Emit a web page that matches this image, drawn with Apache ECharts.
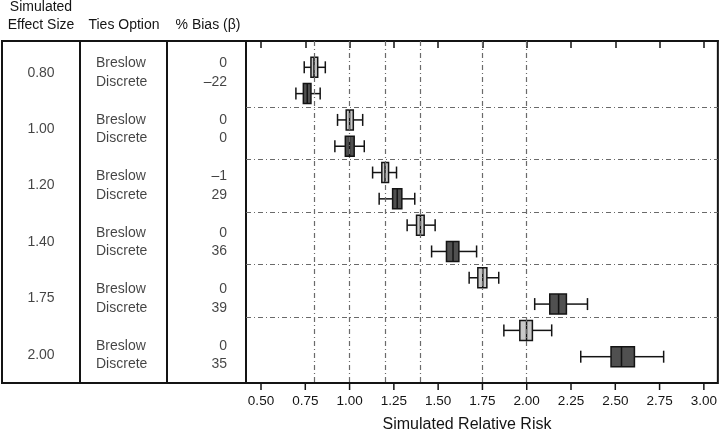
<!DOCTYPE html>
<html>
<head>
<meta charset="utf-8">
<script src="https://cdn.jsdelivr.net/npm/echarts@6/dist/echarts.min.js"></script>
<style>html,body{margin:0;padding:0;background:#fff}#c{width:720px;height:432px}</style>
</head>
<body>
<div id="c"></div>
<script>
// ---- data ----
const effectSizes = ['0.80', '1.00', '1.20', '1.40', '1.75', '2.00'];
const tiesOptions = ['Breslow', 'Discrete'];
const biasBreslow = ['0', '0', '–1', '0', '0', '0'];
const biasDiscrete = ['–22', '0', '29', '36', '39', '35'];
// [low whisker, Q1, median, Q3, high whisker]
const breslowStats = [
  [0.744, 0.782, 0.799, 0.820, 0.863],
  [0.932, 0.981, 1.000, 1.021, 1.074],
  [1.130, 1.182, 1.200, 1.220, 1.265],
  [1.325, 1.378, 1.400, 1.421, 1.483],
  [1.675, 1.724, 1.752, 1.775, 1.842],
  [1.871, 1.961, 1.999, 2.032, 2.141]
];
const discreteStats = [
  [0.697, 0.739, 0.761, 0.782, 0.834],
  [0.917, 0.976, 1.000, 1.026, 1.083],
  [1.167, 1.243, 1.269, 1.295, 1.368],
  [1.463, 1.547, 1.584, 1.617, 1.717],
  [2.045, 2.130, 2.180, 2.224, 2.343],
  [2.305, 2.476, 2.535, 2.608, 2.773]
];
const referenceLines = [0.80, 1.00, 1.20, 1.40, 1.75, 2.00];
const tickValues = [0.50, 0.75, 1.00, 1.25, 1.50, 1.75, 2.00, 2.25, 2.50, 2.75, 3.00];
const tickLabels = ['0.50', '0.75', '1.00', '1.25', '1.50', '1.75', '2.00', '2.25', '2.50', '2.75', '3.00'];
const headers = [['Simulated', 'Effect Size'], ['Ties Option'], ['% Bias (β)']];

// ---- build ----
const FONT = 'Liberation Sans, Arial, sans-serif';
const INK = '#141414';
const Y_MIN = 0, Y_MAX = 13;

const breslowData = breslowStats.map((s, i) => [2 * i + 1].concat(s));
const discreteData = discreteStats.map((s, i) => [2 * i + 2].concat(s));
const separators = effectSizes.slice(1).map((_, i) => ({ yAxis: 2 * i + 2.5 }));

function makeRender(fill) {
  return function (params, api) {
    const y = api.value(0);
    const p = [1, 2, 3, 4, 5].map(k => api.coord([api.value(k), y]));
    const cy = p[0][1];
    const h = 20, cap = 12;
    const ls = { stroke: INK, lineWidth: 1.5 };
    return {
      type: 'group',
      children: [
        { type: 'line', shape: { x1: p[0][0], y1: cy, x2: p[1][0], y2: cy }, style: ls },
        { type: 'line', shape: { x1: p[3][0], y1: cy, x2: p[4][0], y2: cy }, style: ls },
        { type: 'line', shape: { x1: p[0][0], y1: cy - cap / 2, x2: p[0][0], y2: cy + cap / 2 }, style: ls },
        { type: 'line', shape: { x1: p[4][0], y1: cy - cap / 2, x2: p[4][0], y2: cy + cap / 2 }, style: ls },
        { type: 'rect', shape: { x: p[1][0], y: cy - h / 2, width: p[3][0] - p[1][0], height: h },
          style: { fill: fill, stroke: INK, lineWidth: 1.5 } },
        { type: 'line', shape: { x1: p[2][0], y1: cy - h / 2, x2: p[2][0], y2: cy + h / 2 }, style: ls }
      ]
    };
  };
}

// tick marks drawn through the x scale
function renderTick(params, api) {
  const pt = api.coord([api.value(0), Y_MAX]);
  return { type: 'line', shape: { x1: pt[0], y1: pt[1], x2: pt[0], y2: pt[1] + 7 },
    style: { stroke: INK, lineWidth: 1.5 } };
}

// table text items: [x, y, text]
const colEffect = 39, colTies = 94, colBias = 225;
const rowOff = 0.163;
const effectItems = effectSizes.map((t, i) => [colEffect, i, t]);
const tiesItems = [];
const biasItems = [];
effectSizes.forEach((_, i) => {
  tiesItems.push([colTies, i - rowOff, tiesOptions[0]]);
  tiesItems.push([colTies, i + rowOff, tiesOptions[1]]);
  biasItems.push([colBias, i - rowOff, biasBreslow[i]]);
  biasItems.push([colBias, i + rowOff, biasDiscrete[i]]);
});

function textSeries(data, align) {
  return {
    type: 'scatter', xAxisIndex: 1, yAxisIndex: 1, data: data,
    symbolSize: 0, silent: true,
    label: {
      show: true, position: 'inside', align: align, verticalAlign: 'middle',
      formatter: p => p.data[2], color: INK, fontSize: 14, fontFamily: FONT
    }
  };
}

const headerGraphics = [
  { type: 'text', x: 41, y: 7, style: { text: headers[0][0], font: '14px ' + FONT, fill: INK, align: 'center', verticalAlign: 'middle' } },
  { type: 'text', x: 41, y: 25, style: { text: headers[0][1], font: '14px ' + FONT, fill: INK, align: 'center', verticalAlign: 'middle' } },
  { type: 'text', x: 124, y: 25, style: { text: headers[1][0], font: '14px ' + FONT, fill: INK, align: 'center', verticalAlign: 'middle' } },
  { type: 'text', x: 208, y: 25, style: { text: headers[2][0], font: '14px ' + FONT, fill: INK, align: 'center', verticalAlign: 'middle' } },
  { type: 'text', x: 467, y: 425, style: { text: 'Simulated Relative Risk', font: '16px ' + FONT, fill: INK, align: 'center', verticalAlign: 'middle' } }
];

const dashDot = [5, 3, 1, 3];

const option = {
  animation: false,
  backgroundColor: '#fff',
  graphic: headerGraphics,
  grid: [
    { left: 246, right: 2, top: 41, bottom: 49, show: true, borderColor: INK, borderWidth: 2, backgroundColor: 'transparent', z: 5 },
    { left: 2, width: 244, top: 41, bottom: 49, show: true, borderColor: INK, borderWidth: 2, backgroundColor: 'transparent', z: 5 }
  ],
  xAxis: [
    {
      type: 'value', gridIndex: 0, min: 0.4153, max: 3.079,
      axisLine: { show: true, lineStyle: { color: INK, width: 2 } },
      splitLine: { show: false },
      axisTick: { show: true, length: 7, inside: false, customValues: tickValues, lineStyle: { color: INK, width: 1.5 } },
      axisLabel: {
        customValues: tickValues, margin: 11,
        formatter: v => tickLabels[tickValues.findIndex(t => Math.abs(t - v) < 1e-9)],
        color: INK, fontSize: 13.5, fontFamily: FONT
      }
    },
    { type: 'value', gridIndex: 1, min: 0, max: 244, show: false }
  ],
  yAxis: [
    { type: 'value', gridIndex: 0, min: Y_MIN, max: Y_MAX, inverse: true, show: false },
    { type: 'value', gridIndex: 1, min: -0.561, max: 5.496, inverse: true, show: false }
  ],
  series: [
    {
      type: 'line', xAxisIndex: 0, yAxisIndex: 0, data: [], z: 1, silent: true,
      markLine: {
        silent: true, symbol: 'none', label: { show: false },
        lineStyle: { color: '#6a6a6a', width: 1.2, type: dashDot },
        data: referenceLines.map(v => ({ xAxis: v })).concat(separators)
      }
    },
    {
      type: 'custom', name: 'Breslow', xAxisIndex: 0, yAxisIndex: 0, z: 3,
      renderItem: makeRender('#c8c8c8'), data: breslowData,
      encode: { x: [1, 2, 3, 4, 5], y: 0 }
    },
    {
      type: 'custom', name: 'Discrete', xAxisIndex: 0, yAxisIndex: 0, z: 3,
      renderItem: makeRender('#505050'), data: discreteData,
      encode: { x: [1, 2, 3, 4, 5], y: 0 }
    },
    {
      type: 'custom', name: 'ticks', xAxisIndex: 0, yAxisIndex: 0, z: 6, clip: false, silent: true,
      renderItem: renderTick, data: tickValues.map(v => [v]), encode: { x: 0 }
    },
    Object.assign(textSeries(effectItems, 'center'), {
      markLine: {
        silent: true, symbol: 'none', label: { show: false },
        lineStyle: { color: INK, width: 2, type: 'solid' },
        data: [{ xAxis: 78 }, { xAxis: 165 }]
      }
    }),
    textSeries(tiesItems, 'left'),
    textSeries(biasItems, 'right')
  ]
};

const chart = echarts.init(document.getElementById('c'), null, { renderer: 'canvas' });
chart.setOption(option);
</script>
</body>
</html>
